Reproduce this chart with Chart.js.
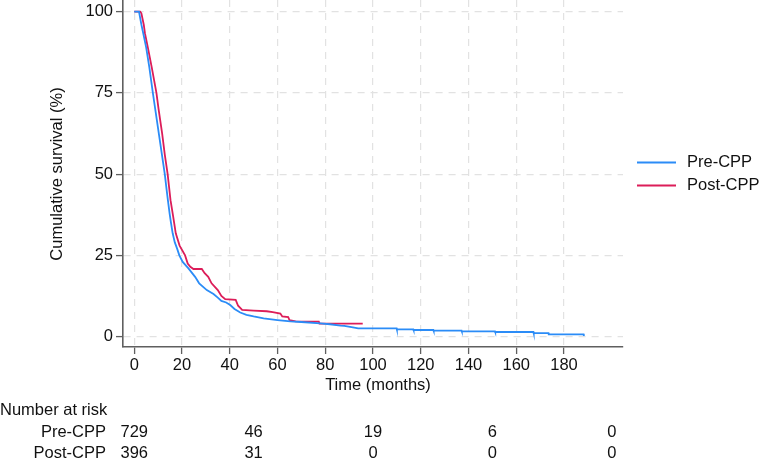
<!DOCTYPE html>
<html>
<head>
<meta charset="utf-8">
<script src="https://cdn.jsdelivr.net/npm/chart.js@4"></script>
<style>
  html, body { margin: 0; padding: 0; background: #ffffff; }
  #wrap { width: 762px; height: 466px; position: relative; }
</style>
</head>
<body>
<div id="wrap"><canvas id="c" width="762" height="466"></canvas></div>
<script>
// ---- data ----
const seriesNames = ["Pre-CPP", "Post-CPP"];
const preTime = [0, 2, 3, 3.8, 5, 6.3, 7.8, 8.8, 9.6, 10.4, 11.6, 12.8, 13.6, 14.1, 14.8, 15.4, 16.1, 17, 18, 18.9, 20.3, 22.7, 25.5, 27.2, 30.4, 33.2, 35, 36.5, 38.5, 40.2, 42, 44.4, 47, 50, 54.2, 60, 65.4, 70, 78, 82, 86.4, 88, 91, 93.8, 109.9, 110, 116.9, 117, 125.3, 125.4, 137.1, 137.2, 151.1, 151.2, 167.2, 167.3, 173.5, 173.6, 188.2, 188.3];
const preSurv = [100, 100, 96, 93.3, 89, 83, 75, 70, 66, 62, 56, 50, 45, 42, 38, 35, 31.8, 29, 27, 25, 23, 21, 18.4, 16.4, 14.3, 13.1, 12, 11, 10.5, 9.7, 8.5, 7.4, 6.7, 6.2, 5.6, 5.1, 4.7, 4.5, 4.1, 3.8, 3.4, 3.3, 2.9, 2.55, 2.55, 2.24, 2.24, 2.03, 2.03, 1.82, 1.82, 1.62, 1.62, 1.42, 1.42, 1.1, 1.1, 0.7, 0.7, 0.2];
const postTime = [0, 2.5, 3, 4, 4.5, 5.7, 7.3, 8.3, 9.3, 10.2, 11.7, 12.8, 14, 14.6, 15.2, 16.3, 17.4, 19, 21.3, 22.4, 23.5, 24.8, 28.3, 29.5, 31, 32.4, 35, 36.5, 38.1, 42.5, 43.5, 45.2, 50, 55.5, 58, 61.2, 62, 64.5, 65, 67.6, 77.3, 77.6, 95.7];
const postSurv = [100, 100, 99.5, 96, 93.3, 89, 83, 79, 75, 70, 62.5, 56, 50, 46, 42, 37, 31.8, 28, 25, 22.5, 21.5, 20.8, 20.8, 19.5, 18.4, 16.4, 14.3, 12.5, 11.5, 11.3, 9.5, 8.2, 8.0, 7.8, 7.5, 7.1, 6.2, 6.0, 5.1, 4.7, 4.6, 4.0, 4.0];
const xTicks = [0, 20, 40, 60, 80, 100, 120, 140, 160, 180];
const yTicks = [0, 25, 50, 75, 100];
const riskTimes = [0, 50, 100, 150, 200];
const preRisk = [729, 46, 19, 6, 0];
const postRisk = [396, 31, 0, 0, 0];
const riskTitle = "Number at risk";
const xTitle = "Time (months)";
const yTitle = "Cumulative survival (%)";

// ---- styling ----
const BLUE = "#2b8cf7";
const RED = "#dc1d59";
const FONT = "'Liberation Sans', Arial, Helvetica, sans-serif";
const FS = 16.5;
const AXIS = "#5f5f5f";
const GRID = "#e2e2e2";
const TXT = "#111111";

function pts(t, s) { return t.map((v, i) => ({ x: v, y: s[i] })); }

const extras = {
  id: "extras",
  afterDraw(chart) {
    const ctx = chart.ctx;
    const xs = chart.scales.x;
    ctx.save();
    ctx.fillStyle = TXT;
    ctx.font = FS + "px " + FONT;
    ctx.textBaseline = "middle";
    // y title
    ctx.save();
    ctx.translate(57, 174);
    ctx.rotate(-Math.PI / 2);
    ctx.textAlign = "center";
    ctx.fillText(yTitle, 0, 0);
    ctx.restore();
    // x title
    ctx.textAlign = "center";
    ctx.fillText(xTitle, 378, 385);
    // risk table
    ctx.textAlign = "left";
    ctx.fillText(riskTitle, 0, 410);
    ctx.textAlign = "right";
    ctx.fillText(seriesNames[0], 106, 432);
    ctx.fillText(seriesNames[1], 106, 453);
    ctx.textAlign = "center";
    riskTimes.forEach((t, i) => {
      const px = xs.getPixelForValue(t);
      ctx.fillText(String(preRisk[i]), px, 432);
      ctx.fillText(String(postRisk[i]), px, 453);
    });
    // legend
    const legY = [162.5, 185.5];
    const cols = [BLUE, RED];
    ctx.textAlign = "left";
    seriesNames.forEach((n, i) => {
      ctx.strokeStyle = cols[i];
      ctx.lineWidth = 2;
      ctx.beginPath();
      ctx.moveTo(637, legY[i]);
      ctx.lineTo(676, legY[i]);
      ctx.stroke();
      ctx.fillText(n, 687, legY[i]);
    });
    ctx.restore();
  }
};

new Chart(document.getElementById("c"), {
  type: "line",
  data: {
    datasets: [
      { label: seriesNames[0], data: pts(preTime, preSurv), borderColor: BLUE, borderWidth: 1.8, pointRadius: 0, tension: 0, fill: false },
      { label: seriesNames[1], data: pts(postTime, postSurv), borderColor: RED, borderWidth: 1.8, pointRadius: 0, tension: 0, fill: false }
    ]
  },
  options: {
    responsive: false,
    animation: false,
    events: [],
    layout: { padding: { left: 0, right: 139, top: 0, bottom: 0 } },
    plugins: { legend: { display: false }, tooltip: { enabled: false } },
    scales: {
      x: {
        type: "linear",
        min: -4.7,
        max: 204.7,
        afterBuildTicks(s) { s.ticks = xTicks.map(v => ({ value: v })); },
        afterFit(s) { s.height = 119; s.paddingLeft = 0; s.paddingRight = 0; },
        ticks: { color: TXT, font: { family: FONT, size: FS }, padding: 2, maxRotation: 0, autoSkip: false },
        grid: { color: GRID, lineWidth: 1.2, drawTicks: true, tickLength: 7, tickColor: AXIS, tickWidth: 1.3 },
        border: { display: true, color: AXIS, width: 1.6, dash: [7, 6] }
      },
      y: {
        type: "linear",
        min: -3.2,
        max: 103.6,
        afterBuildTicks(s) { s.ticks = yTicks.map(v => ({ value: v })); },
        afterFit(s) { s.width = 123; s.paddingTop = 0; s.paddingBottom = 0; },
        ticks: { color: TXT, font: { family: FONT, size: FS }, padding: 3 },
        grid: { color: GRID, lineWidth: 1.2, drawTicks: true, tickLength: 7, tickColor: AXIS, tickWidth: 1.3 },
        border: { display: true, color: AXIS, width: 1.6, dash: [7, 6] }
      }
    }
  },
  plugins: [extras]
});
</script>
</body>
</html>
